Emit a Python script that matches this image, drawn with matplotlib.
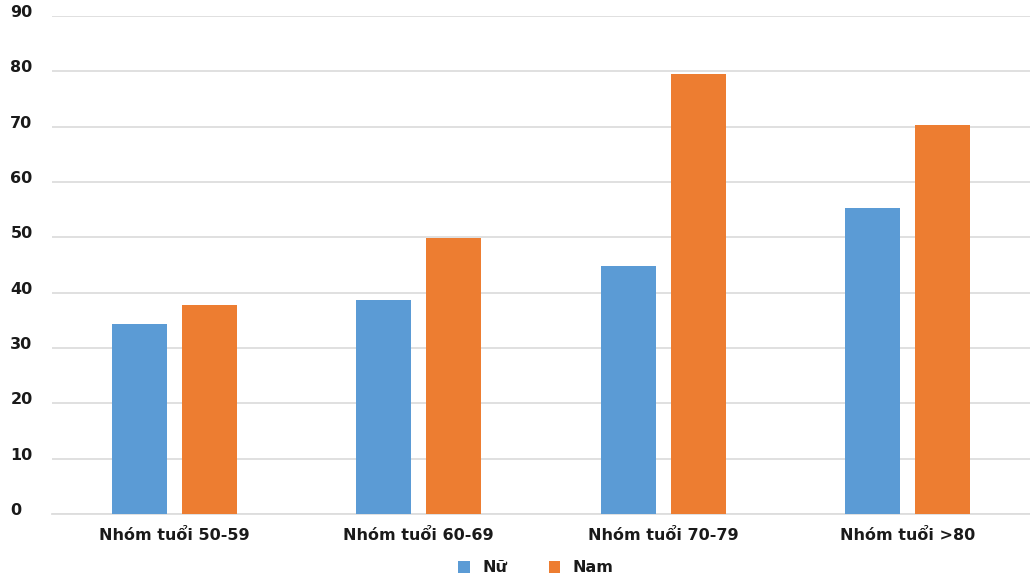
import matplotlib
matplotlib.use("Agg")
import matplotlib.pyplot as plt
import matplotlib.transforms as mtransforms
import numpy as np

categories = ["Nhóm tuổi 50-59", "Nhóm tuổi 60-69", "Nhóm tuổi 70-79", "Nhóm tuổi >80"]
nu_values = [34.4, 38.6, 44.9, 55.3]
nam_values = [37.8, 49.9, 79.6, 70.3]
series_names = ["Nữ", "Nam"]
y_ticks = [0, 10, 20, 30, 40, 50, 60, 70, 80, 90]

blue = "#5B9BD5"
orange = "#ED7D31"
grid_color = "#DDDDDD"
text_color = "#1a1a1a"

plt.rcParams["font.family"] = ["DejaVu Sans"]
plt.rcParams["font.weight"] = "bold"

fig = plt.figure(figsize=(10.30, 5.81), dpi=100)
ax = fig.add_axes([52 / 1030, 1 - 514 / 581, 1 - 52 / 1030, (514 - 16) / 581])

x = np.arange(len(categories))
width = 0.225
offset = 0.143
ax.bar(x - offset, nu_values, width, color=blue, label=series_names[0], zorder=3)
ax.bar(x + offset, nam_values, width, color=orange, label=series_names[1], zorder=3)

ax.set_xlim(-0.5, len(categories) - 0.5)
ax.set_ylim(0, 90)
ax.set_yticks(y_ticks)
ax.set_yticklabels([str(v) for v in y_ticks], fontsize=11.5, fontweight="bold", ha="left",
                   va="center", color=text_color)
ax.tick_params(axis="y", length=0, pad=30)
# lift the value labels a little above their gridlines
lift = mtransforms.ScaledTranslation(0, 2.5 / 72, fig.dpi_scale_trans)
for lbl in ax.get_yticklabels():
    lbl.set_transform(lbl.get_transform() + lift)
ax.set_xticks(x)
ax.set_xticklabels(categories, fontsize=11.5, fontweight="bold", color=text_color)
ax.tick_params(axis="x", length=0, pad=10)

ax.yaxis.grid(True, color=grid_color, linewidth=1.3, zorder=0)
ax.set_axisbelow(True)
for side in ["top", "right", "left"]:
    ax.spines[side].set_visible(False)
ax.spines["bottom"].set_color(grid_color)
ax.spines["bottom"].set_linewidth(1.3)

leg = fig.legend(loc="center", bbox_to_anchor=(536 / 1030, 1 - 568 / 581), ncol=2, frameon=False,
                 fontsize=11.5, handlelength=0.7, handleheight=0.7, columnspacing=2.6, handletextpad=0.8)
for t in leg.get_texts():
    t.set_fontweight("bold")
    t.set_color(text_color)

fig.savefig("out.png", dpi=100, facecolor="white")
